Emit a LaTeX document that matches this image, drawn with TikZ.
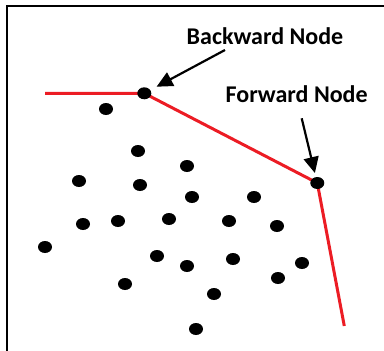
\documentclass[tikz,border=0pt]{standalone}
\usepackage{fontspec}
\setmainfont{Carlito}
\usetikzlibrary{arrows.meta,shapes.geometric,backgrounds}
\definecolor{hullred}{RGB}{236,28,36}

\begin{document}
\begin{tikzpicture}[
    x=1pt, y=-1pt,
    dot/.style={
        ellipse,
        fill=black,
        minimum width=14pt,
        minimum height=12pt,
        inner sep=0pt
    },
    hull/.style={hullred, line width=3pt},
    pointer/.style={-{Triangle[length=16pt,width=15pt]}, line width=2.2pt},
    tag/.style={font=\fontsize{24}{28}\selectfont\bfseries, inner sep=0pt}
]
\useasboundingbox (0,0) rectangle (384,351);

% Frame, open on the right and at the bottom.
\draw[line width=2pt] (6.5,351) -- (6.5,5.5) -- (384,5.5);

% Scattered points inside the hull.
\foreach \i/\x/\y in {
    1/106/109, 2/138/151, 3/187/166, 4/79/181, 5/140/185,
    6/192/197, 7/254/197, 8/83/224, 9/118/221, 10/169/219,
    11/229/221, 12/277/226, 13/45/247, 14/157/256, 15/187/266,
    16/233/259, 17/302/263, 18/278/278, 19/125/284, 20/214/294,
    21/196/329
} {
    \node[dot] (p\i) at (\x,\y) {};
}

% The two hull nodes.
\node[dot] (bwd) at (144.3,93.3) {};
\node[dot] (fwd) at (317.3,183) {};

% Hull edges, kept under the points.
\coordinate (hullstart) at (45,93.3);
\coordinate (hullend) at (344.3,326);
\begin{scope}[on background layer]
    \draw[hull] (hullstart) -- (bwd.center) -- (fwd.center) -- (hullend);
\end{scope}

% Labels and pointers.
\node[tag] (bwdlabel) at (265,36) {Backward Node};
\node[tag] (fwdlabel) at (296.7,94.5) {Forward Node};
\coordinate (bwdtail) at (225,50);
\coordinate (fwdtail) at (301.7,118.3);
\draw[pointer, shorten >=7pt] (bwdtail) -- (bwd);
\draw[pointer, shorten >=4pt] (fwdtail) -- (fwd);

\end{tikzpicture}
\end{document}
